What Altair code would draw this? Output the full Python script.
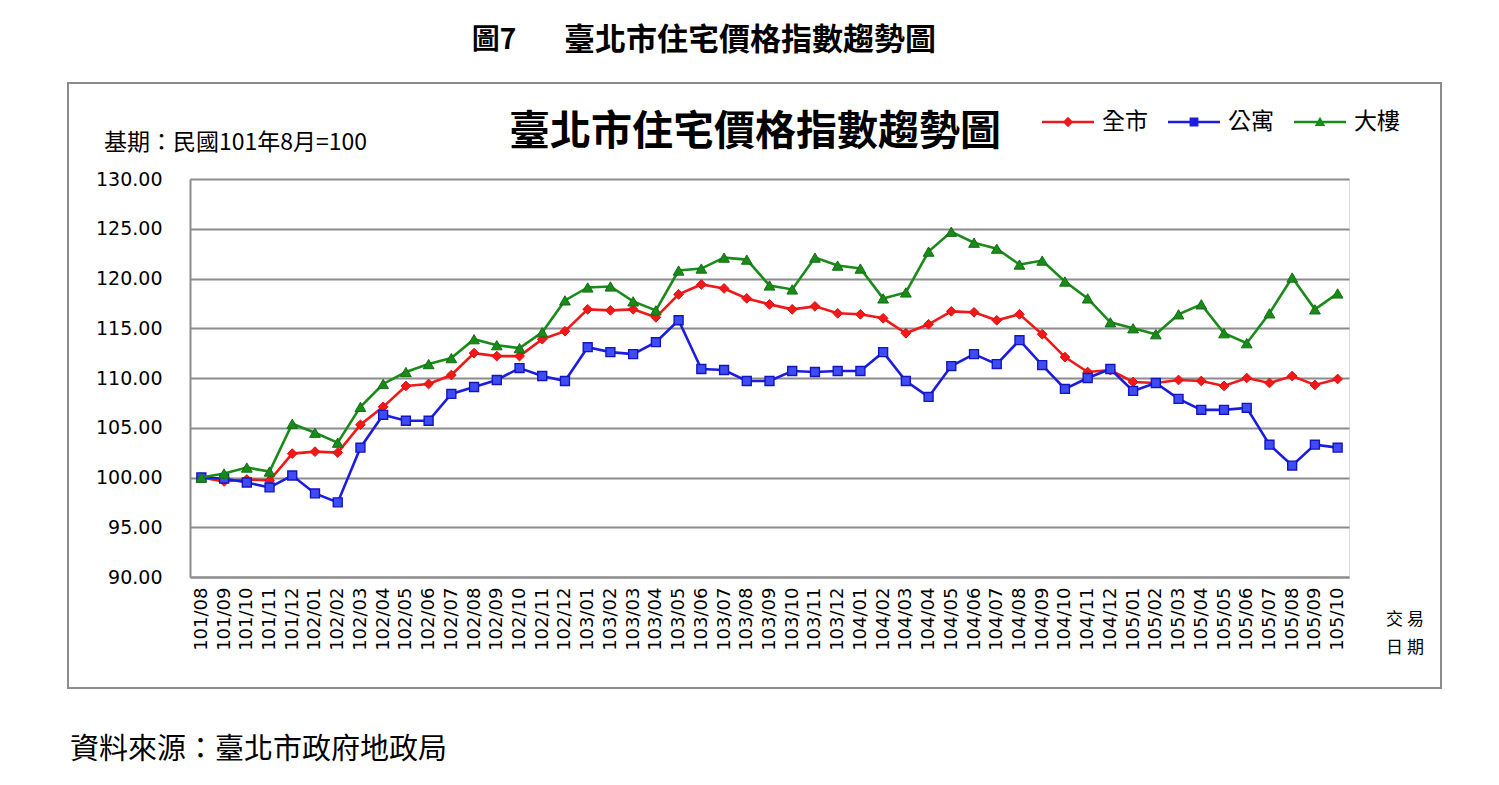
import altair as alt
import pandas as pd

months = [
    "101/08", "101/09", "101/10", "101/11", "101/12",
    "102/01", "102/02", "102/03", "102/04", "102/05", "102/06", "102/07", "102/08", "102/09", "102/10", "102/11", "102/12",
    "103/01", "103/02", "103/03", "103/04", "103/05", "103/06", "103/07", "103/08", "103/09", "103/10", "103/11", "103/12",
    "104/01", "104/02", "104/03", "104/04", "104/05", "104/06", "104/07", "104/08", "104/09", "104/10", "104/11", "104/12",
    "105/01", "105/02", "105/03", "105/04", "105/05", "105/06", "105/07", "105/08", "105/09", "105/10",
]

city = [
    100.0, 99.6, 99.8, 99.7, 102.4,
    102.6, 102.5, 105.3, 107.1, 109.2, 109.4, 110.3, 112.5, 112.2, 112.2, 113.9, 114.7,
    116.9, 116.8, 116.9, 116.1, 118.4, 119.4, 119.0, 118.0, 117.4, 116.9, 117.2, 116.5,
    116.4, 116.0, 114.5, 115.4, 116.7, 116.6, 115.8, 116.4, 114.4, 112.1, 110.6, 110.8,
    109.6, 109.5, 109.8, 109.7, 109.2, 110.0, 109.5, 110.2, 109.3, 109.9,
]

apartment = [
    100.0, 99.9, 99.5, 99.0, 100.2,
    98.4, 97.5, 103.0, 106.3, 105.7, 105.7, 108.4, 109.1, 109.8, 111.0, 110.2, 109.7,
    113.1, 112.6, 112.4, 113.6, 115.8, 110.9, 110.8, 109.7, 109.7, 110.7, 110.6, 110.7,
    110.7, 112.6, 109.7, 108.1, 111.2, 112.4, 111.4, 113.8, 111.3, 108.9, 110.0, 110.9,
    108.7, 109.5, 107.9, 106.8, 106.8, 107.0, 103.3, 101.2, 103.3, 103.0,
]

building = [
    100.0, 100.4, 101.0, 100.6, 105.4,
    104.5, 103.5, 107.1, 109.4, 110.6, 111.4, 112.0, 113.9, 113.3, 113.0, 114.6, 117.8,
    119.1, 119.2, 117.7, 116.8, 120.8, 121.0, 122.1, 121.9, 119.3, 118.9, 122.1, 121.3,
    121.0, 118.0, 118.6, 122.7, 124.7, 123.6, 123.0, 121.4, 121.8, 119.7, 118.0, 115.6,
    115.0, 114.4, 116.4, 117.4, 114.5, 113.5, 116.5, 120.1, 116.9, 118.5,
]

series_names = ["全市", "公寓", "大樓"]
series_colors = ["#f01818", "#1c1ce0", "#1a8a1a"]
y_ticks = [90, 95, 100, 105, 110, 115, 120, 125, 130]

frames = []
for name, vals in zip(series_names, [city, apartment, building]):
    frames.append(pd.DataFrame({"month": months, "value": vals, "series": name}))
df = pd.concat(frames, ignore_index=True)

CJK = "Noto Sans CJK TC"
GRID = "#8c8c8c"

x_enc = alt.X(
    "month:O",
    sort=months,
    scale=alt.Scale(type="point", padding=0.5),
    axis=alt.Axis(
        labelAngle=270, ticks=False, grid=False, title=None,
        domainColor=GRID, domainWidth=2,
        labelFont="DejaVu Sans", labelFontSize=18, labelColor="black",
        labelPadding=10, labelOverlap=False,
    ),
)
y_enc = alt.Y(
    "value:Q",
    scale=alt.Scale(domain=[90, 130], nice=False, zero=False),
    axis=alt.Axis(
        values=y_ticks, format=".2f", title=None, ticks=False,
        grid=True, gridColor=GRID, gridWidth=2,
        domainColor=GRID, domainWidth=2,
        labelFont="DejaVu Sans", labelFontSize=19, labelColor="black",
        labelPadding=28,
    ),
)

base = alt.Chart(df)

def series_layers(name, color, shape, size, fill, stroke, sw):
    sub = base.transform_filter(alt.datum.series == name)
    line = sub.mark_line(color=color, strokeWidth=2.6).encode(x=x_enc, y=y_enc)
    pts = sub.mark_point(
        shape=shape, filled=True, size=size, fill=fill, stroke=stroke,
        strokeWidth=sw, opacity=1,
    ).encode(x=x_enc, y=y_enc)
    return [line, pts]

layers = []
layers += series_layers("全市", series_colors[0], "diamond", 95, "#f01818", "#e01010", 1)
layers += series_layers("公寓", series_colors[1], "square", 80, "#3d4cf5", "#1515c0", 1.4)
layers += series_layers("大樓", series_colors[2], "triangle-up", 115, "#1a8a1a", "#127012", 1)

legend_paths = [
    "M-1,-0.05L1,-0.05L1,0.05L-1,0.05Z M0,-0.2L0.2,0L0,0.2L-0.2,0Z",
    "M-1,-0.05L1,-0.05L1,0.05L-1,0.05Z M-0.17,-0.17L0.17,-0.17L0.17,0.17L-0.17,0.17Z",
    "M-1,-0.05L1,-0.05L1,0.05L-1,0.05Z M0,-0.2L0.2,0.15L-0.2,0.15Z",
]

legend_layer = base.transform_filter("false").mark_point(filled=True, opacity=1).encode(
    x=x_enc,
    y=y_enc,
    color=alt.Color(
        "series:N",
        scale=alt.Scale(domain=series_names, range=series_colors),
        legend=alt.Legend(
            title=None, orient="none", direction="horizontal", columns=3,
            legendX=852, legendY=-83,
            symbolSize=2704, symbolOpacity=1, symbolStrokeWidth=0,
            labelFont=CJK, labelFontSize=23, labelColor="black",
            labelOffset=8, columnPadding=20,
        ),
    ),
    shape=alt.Shape(
        "series:N",
        scale=alt.Scale(domain=series_names, range=legend_paths),
    ),
)

one = pd.DataFrame({"k": [0]})

border = alt.Chart(one).mark_rect(
    fill="transparent", stroke=GRID, strokeWidth=2
).encode(
    x=alt.value(-122), x2=alt.value(1251), y=alt.value(-96), y2=alt.value(509)
)

def label(text, x, y, size, weight="normal", align="center", font=CJK):
    return alt.Chart(one).mark_text(
        text=text, font=font, fontSize=size, fontWeight=weight, align=align,
        baseline="middle", color="black",
    ).encode(x=alt.value(x), y=alt.value(y))

texts = [
    label("圖7", 304, -138, 28, "bold"),
    label("臺北市住宅價格指數趨勢圖", 560, -138, 31, "bold"),
    label("臺北市住宅價格指數趨勢圖", 565, -46, 41, "bold"),
    label("基期：民國101年8月=100", -86, -36, 23, align="left"),
    label("交 易", 1215, 441, 17),
    label("日 期", 1215, 469, 17),
    label("資料來源：臺北市政府地政局", -120, 571, 29, align="left"),
]

chart = alt.layer(border, *layers, legend_layer, *texts).properties(
    width=1159,
    height=398,
    autosize=alt.AutoSizeParams(type="none"),
    padding={"left": 182, "top": 171, "right": 134, "bottom": 200},
).configure_view(strokeWidth=0).configure(background="white")

chart.save("out.html", embed_options={"renderer": "svg", "actions": False})
